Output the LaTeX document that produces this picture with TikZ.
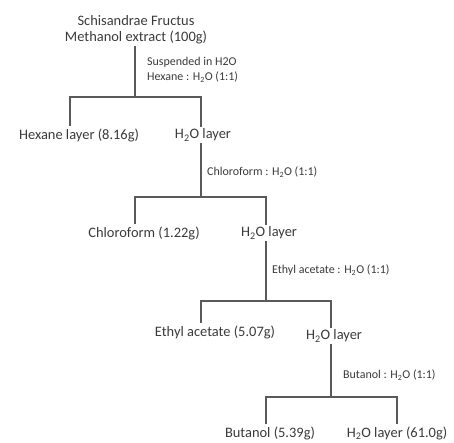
\documentclass[tikz,border=0pt]{standalone}
\usepackage{fontspec}
\setmainfont{Carlito}
\usetikzlibrary{positioning, calc}
\definecolor{inkgray}{HTML}{3A3A3A}
\definecolor{linegray}{HTML}{5A5A5A}

\begin{document}
\begin{tikzpicture}[
  x=1bp, y=-1bp,
  layer/.style={inner sep=2bp, text=inkgray, font=\fontsize{14.5}{16}\selectfont},
  cond/.style={anchor=west, inner sep=0pt, align=left, text=inkgray, font=\fontsize{12}{15}\selectfont},
  link/.style={draw=linegray, line width=1.1pt}
]
  \useasboundingbox (0,0) rectangle (454,443);

  % Starting material
  \node[layer, align=center] (extract) at (136,30) {Schisandrae Fructus\\Methanol extract (100g)};

  % Layers
  \node[layer] (hexane) at (79,135) {Hexane layer (8.16g)};
  \node[layer] (water1) at (203,135) {H\textsubscript{2}O layer};
  \node[layer] (chloro) at (144,233) {Chloroform (1.22g)};
  \node[layer] (water2) at (269,233) {H\textsubscript{2}O layer};
  \node[layer] (ethyl) at (215,332) {Ethyl acetate (5.07g)};
  \node[layer] (water3) at (334,336) {H\textsubscript{2}O layer};
  \node[layer] (butanol) at (270,433) {Butanol (5.39g)};
  \node[layer] (water4) at (397,433) {H\textsubscript{2}O layer (61.0g)};

  % Partition conditions
  \node[cond] (c1) at (147,70) {Suspended in H2O\\Hexane : H\textsubscript{2}O (1:1)};
  \node[cond] (c2) at (207,172) {Chloroform : H\textsubscript{2}O (1:1)};
  \node[cond] (c3) at (272,270) {Ethyl acetate : H\textsubscript{2}O (1:1)};
  \node[cond] (c4) at (343,375) {Butanol : H\textsubscript{2}O (1:1)};

  % Bar ends
  \coordinate (b1l) at (70,97);
  \coordinate (b1r) at (201,97);
  \coordinate (b2l) at (135,197);
  \coordinate (b2r) at (266,197);
  \coordinate (b3l) at (201,301);
  \coordinate (b3r) at (331,301);
  \coordinate (b4l) at (266,397);
  \coordinate (b4r) at (397,397);

  % Connectors
  \draw[link] (extract.south -| 135,0) -- (135,97);
  \draw[link] (b1l |- hexane.north) -- (b1l) -- (b1r) -- (b1r |- water1.north);
  \draw[link] (b1r |- water1.south) -- (b1r |- b2l);
  \draw[link] (b2l |- chloro.north) -- (b2l) -- (b2r) -- (b2r |- water2.north);
  \draw[link] (b2r |- water2.south) -- (b2r |- b3l);
  \draw[link] (b3l |- ethyl.north) -- (b3l) -- (b3r) -- (b3r |- water3.north);
  \draw[link] (b3r |- water3.south) -- (b3r |- b4l);
  \draw[link] (b4l |- butanol.north) -- (b4l) -- (b4r) -- (b4r |- water4.north);
\end{tikzpicture}
\end{document}
